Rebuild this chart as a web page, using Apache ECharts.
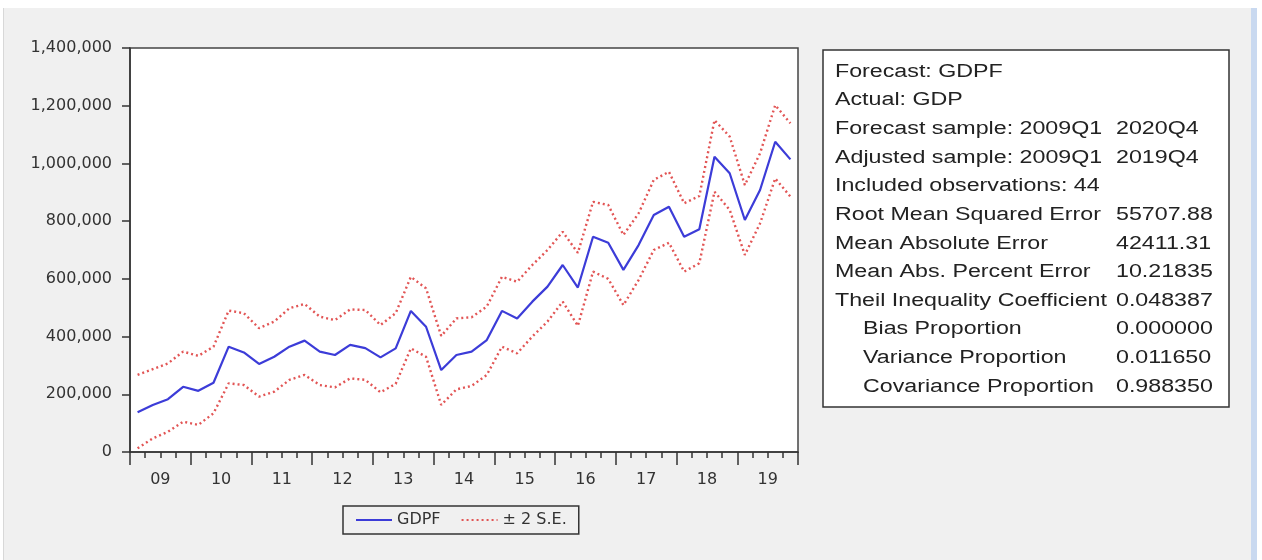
<!DOCTYPE html>
<html>
<head>
<meta charset="utf-8">
<script src="https://cdn.jsdelivr.net/npm/echarts@6/dist/echarts.min.js"></script>
<style>
  html, body { margin: 0; padding: 0; background: #fff; }
  .frame {
    position: absolute; left: 3px; top: 8px; width: 1247px; height: 552px;
    background: #f0f0f0; border-left: 1px solid #d8d8d8; border-right: 6px solid #c9d9f0;
  }
  #chart { position: absolute; left: 0; top: 0; width: 1262px; height: 560px; }
</style>
</head>
<body>
<div class="frame"></div>
<div id="chart"></div>
<script>
// quarters 2009Q1 .. 2019Q4
const quarters = [
  '2009Q1','2009Q2','2009Q3','2009Q4','2010Q1','2010Q2','2010Q3','2010Q4',
  '2011Q1','2011Q2','2011Q3','2011Q4','2012Q1','2012Q2','2012Q3','2012Q4',
  '2013Q1','2013Q2','2013Q3','2013Q4','2014Q1','2014Q2','2014Q3','2014Q4',
  '2015Q1','2015Q2','2015Q3','2015Q4','2016Q1','2016Q2','2016Q3','2016Q4',
  '2017Q1','2017Q2','2017Q3','2017Q4','2018Q1','2018Q2','2018Q3','2018Q4',
  '2019Q1','2019Q2','2019Q3','2019Q4'
]
const yearLabels = ['09', '10', '11', '12', '13', '14', '15', '16', '17', '18', '19']

const gdpf = [
  138000, 163000, 183000, 226000, 212000, 240000, 365000, 345000,
  305000, 330000, 365000, 386000, 348000, 336000, 371000, 360000,
  328000, 359000, 489000, 434000, 284000, 336000, 348000, 388000,
  489000, 463000, 521000, 573000, 648000, 570000, 746000, 725000,
  631000, 717000, 821000, 850000, 746000, 772000, 1023000, 966000,
  804000, 908000, 1075000, 1014000
]
const upper = [
  267000, 287000, 307000, 348000, 333000, 365000, 490000, 481000,
  429000, 452000, 498000, 513000, 469000, 457000, 494000, 492000,
  440000, 481000, 607000, 567000, 402000, 463000, 467000, 504000,
  607000, 590000, 648000, 700000, 763000, 690000, 867000, 856000,
  752000, 827000, 943000, 971000, 862000, 887000, 1150000, 1093000,
  925000, 1035000, 1202000, 1139000
]
const lower = [
  13000, 47000, 70000, 105000, 94000, 134000, 238000, 232000,
  192000, 209000, 250000, 267000, 232000, 224000, 255000, 250000,
  207000, 236000, 359000, 330000, 163000, 217000, 229000, 267000,
  365000, 342000, 400000, 452000, 521000, 437000, 625000, 600000,
  509000, 596000, 700000, 725000, 625000, 654000, 902000, 839000,
  683000, 792000, 948000, 885000
]

const statLabels = [
  'Forecast: GDPF',
  'Actual: GDP',
  'Forecast sample: 2009Q1',
  'Adjusted sample: 2009Q1',
  'Included observations: 44',
  'Root Mean Squared Error',
  'Mean Absolute Error',
  'Mean Abs. Percent Error',
  'Theil Inequality Coefficient',
  'Bias Proportion',
  'Variance Proportion',
  'Covariance Proportion'
]
const statValues = ['', '', '2020Q4', '2019Q4', '', '55707.88', '42411.31', '10.21835',
  '0.048387', '0.000000', '0.011650', '0.988350']
const indented = [false, false, false, false, false, false, false, false, false, true, true, true]

const textColor = '#333'
const axisFont = 'DejaVu Sans'
const blue = '#3c3cd8'
const red = '#e25555'

// statistics box built from the text arrays
const statFont = '18px "Liberation Sans", Arial, sans-serif'
const statElements = [{
  type: 'rect',
  shape: { x: 823, y: 50, width: 406, height: 357 },
  style: { fill: '#fff', stroke: '#333', lineWidth: 1.5 }
}]
statLabels.forEach((label, i) => {
  const y = 71.7 + i * 28.64
  statElements.push({
    type: 'text', x: indented[i] ? 863 : 835, y: y, scaleX: 1.29,
    style: { text: label, font: statFont, fill: '#222', verticalAlign: 'middle' }
  })
  if (statValues[i]) {
    statElements.push({
      type: 'text', x: 1116, y: y, scaleX: 1.29,
      style: { text: statValues[i], font: statFont, fill: '#222', verticalAlign: 'middle' }
    })
  }
})

const chart = echarts.init(document.getElementById('chart'))
chart.setOption({
  animation: false,
  grid: {
    left: 130, top: 48, width: 668, height: 404,
    show: true, backgroundColor: '#fff', borderColor: '#444', borderWidth: 1.5
  },
  legend: {
    left: 343, top: 506,
    padding: [6, 12],
    itemWidth: 36, itemHeight: 12, itemGap: 20,
    borderColor: '#333', borderWidth: 1.5,
    itemStyle: { opacity: 0 },
    textStyle: { fontFamily: axisFont, fontSize: 16, color: textColor },
    data: ['GDPF', '± 2 S.E.']
  },
  xAxis: [
    {
      type: 'category',
      data: quarters,
      position: 'bottom',
      boundaryGap: true,
      axisLine: { lineStyle: { color: '#333', width: 1.5 } },
      axisTick: { show: false },
      axisLabel: { show: false },
      splitLine: { show: false }
    },
    {
      // year boundaries (long ticks) and quarter ticks (short)
      type: 'value', position: 'bottom', min: 0, max: 44, interval: 4,
      axisLine: { show: false },
      axisTick: { show: true, length: 13, lineStyle: { color: '#333', width: 1.5 } },
      minorTick: { show: true, splitNumber: 4, length: 6, lineStyle: { color: '#333', width: 1.5 } },
      axisLabel: { show: false },
      splitLine: { show: false }
    },
    {
      // year labels, centred on each year
      type: 'value', position: 'bottom', min: 0, max: 44, interval: 2,
      axisLine: { show: false },
      axisTick: { show: false },
      splitLine: { show: false },
      axisLabel: {
        margin: 20,
        fontFamily: axisFont, fontSize: 16, color: textColor,
        formatter: v => (v % 4 === 2 ? yearLabels[(v - 2) / 4] : '')
      }
    }
  ],
  yAxis: {
    type: 'value',
    min: 0, max: 1400000, interval: 200000,
    axisLine: { show: true, lineStyle: { color: '#333', width: 1.5 } },
    axisTick: { show: true, length: 8, lineStyle: { color: '#333', width: 1.5 } },
    splitLine: { show: false },
    axisLabel: {
      margin: 18,
      fontFamily: axisFont, fontSize: 16, color: textColor,
      formatter: v => v.toLocaleString('en-US')
    }
  },
  graphic: statElements,
  series: [
    {
      name: 'GDPF', type: 'line', data: gdpf, symbol: 'none', z: 3,
      lineStyle: { color: blue, width: 2.2 }, itemStyle: { color: blue }
    },
    {
      name: '± 2 S.E.', type: 'line', data: upper, symbol: 'none',
      lineStyle: { color: red, width: 2.4, type: [2, 3] }, itemStyle: { color: red }
    },
    {
      name: '± 2 S.E.', type: 'line', data: lower, symbol: 'none',
      lineStyle: { color: red, width: 2.4, type: [2, 3] }, itemStyle: { color: red }
    }
  ]
})
</script>
</body>
</html>
